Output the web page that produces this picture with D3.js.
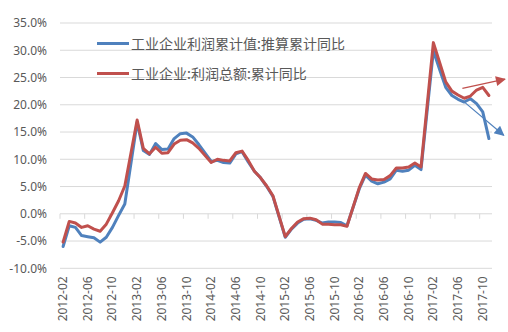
<!DOCTYPE html>
<html>
<head>
<meta charset="utf-8">
<script src="https://cdn.jsdelivr.net/npm/d3@7"></script>
<style>
  html, body { margin: 0; padding: 0; background: #fff; }
  svg { display: block; }
</style>
</head>
<body>
<svg id="chart" width="508" height="332"></svg>
<script>
// Monthly categories, 2012-02 .. 2017-11
const months = [
  "2012-02","2012-03","2012-04","2012-05","2012-06","2012-07","2012-08","2012-09","2012-10","2012-11","2012-12",
  "2013-01","2013-02","2013-03","2013-04","2013-05","2013-06","2013-07","2013-08","2013-09","2013-10","2013-11","2013-12",
  "2014-01","2014-02","2014-03","2014-04","2014-05","2014-06","2014-07","2014-08","2014-09","2014-10","2014-11","2014-12",
  "2015-01","2015-02","2015-03","2015-04","2015-05","2015-06","2015-07","2015-08","2015-09","2015-10","2015-11","2015-12",
  "2016-01","2016-02","2016-03","2016-04","2016-05","2016-06","2016-07","2016-08","2016-09","2016-10","2016-11","2016-12",
  "2017-01","2017-02","2017-03","2017-04","2017-05","2017-06","2017-07","2017-08","2017-09","2017-10","2017-11"
];

// 工业企业利润累计值:推算累计同比 (%), January not published
const estimatedYoY = [
  -6.0, -2.2, -2.5, -4.0, -4.2, -4.4, -5.2, -4.3, -2.5, -0.3, 1.8,
  null, 16.8, 11.6, 10.9, 12.9, 11.8, 11.9, 13.8, 14.7, 14.8, 14.1, 12.7,
  null, 9.6, 9.8, 9.4, 9.3, 11.0, 11.4, 9.5, 7.8, 6.6, 5.0, 3.2,
  null, -4.3, -2.8, -1.7, -1.0, -0.9, -1.2, -1.7, -1.5, -1.5, -1.6, -2.2,
  null, 4.6, 7.1, 6.0, 5.5, 5.8, 6.4, 8.0, 7.8, 8.0, 8.9, 8.1,
  null, 29.9, 26.5, 23.2, 21.7, 21.0, 20.5, 21.1, 20.2, 18.7, 13.8
];

// 工业企业:利润总额:累计同比 (%)
const reportedYoY = [
  -5.2, -1.4, -1.7, -2.5, -2.2, -2.8, -3.2, -1.9, 0.2, 2.4, 5.1,
  null, 17.2, 12.0, 11.0, 12.2, 11.1, 11.2, 12.8, 13.5, 13.6, 13.0, 12.0,
  null, 9.4, 10.0, 9.8, 9.7, 11.2, 11.5, 9.8, 7.8, 6.6, 5.1, 3.3,
  null, -4.2, -2.7, -1.5, -0.9, -0.8, -1.1, -1.9, -1.9, -2.0, -2.0, -2.3,
  null, 4.8, 7.4, 6.4, 6.2, 6.3, 7.0, 8.4, 8.4, 8.6, 9.3, 8.6,
  null, 31.4, 27.8, 24.2, 22.5, 21.8, 21.2, 21.6, 22.7, 23.2, 21.7
];

const seriesNames = ["工业企业利润累计值:推算累计同比", "工业企业:利润总额:累计同比"];
const seriesColors = ["#4f81bd", "#c0504d"];

const yTicks = [-10, -5, 0, 5, 10, 15, 20, 25, 30, 35];
const yTickLabels = ["-10.0%", "-5.0%", "0.0%", "5.0%", "10.0%", "15.0%", "20.0%", "25.0%", "30.0%", "35.0%"];

// Trend arrows: [fromIndex, fromValue, toIndex, toValue]
const trendArrows = [
  { color: "#c0504d", from: [64.7, 23.0], to: [71.6, 24.7] },
  { color: "#4f81bd", from: [64.6, 20.9], to: [71.4, 14.4] }
];

const svg = d3.select("#chart");
const plot = { left: 60, right: 492, top: 23, bottom: 268.3 };

const x = d3.scaleBand().domain(months).range([plot.left, plot.right]).padding(0);
const y = d3.scaleLinear().domain([-10, 35]).range([plot.bottom, plot.top]);
const step = x.bandwidth();
const xc = m => x(m) + step / 2;
const xi = i => x(months[0]) + step / 2 + i * step;

const textColor = "#595959";
const gridColor = "#d9d9d9";

// Horizontal gridlines
svg.append("g")
  .selectAll("line")
  .data(yTicks)
  .join("line")
  .attr("x1", plot.left).attr("x2", plot.right)
  .attr("y1", d => y(d)).attr("y2", d => y(d))
  .attr("stroke", gridColor).attr("stroke-width", 1);

// Y axis labels
const yAxis = d3.axisLeft(y).tickValues(yTicks)
  .tickFormat((d, i) => yTickLabels[i]).tickSize(0).tickPadding(0);
const yg = svg.append("g").attr("transform", `translate(${plot.left - 13},0)`).call(yAxis);
yg.select(".domain").remove();
yg.selectAll("text")
  .attr("fill", textColor)
  .style("font-family", "'Noto Sans', sans-serif")
  .style("font-size", "12px");

// Category axis line at 0% with tick marks every 4 months
const tickIdx = d3.range(0, months.length, 4);
svg.append("g")
  .selectAll("line")
  .data(tickIdx)
  .join("line")
  .attr("x1", i => x(months[i])).attr("x2", i => x(months[i]))
  .attr("y1", y(0)).attr("y2", y(0) + 5)
  .attr("stroke", gridColor).attr("stroke-width", 1);

// Category labels, rotated, placed under the plot
svg.append("g")
  .selectAll("text")
  .data(tickIdx)
  .join("text")
  .attr("transform", i => `translate(${xc(months[i]) + 4},${plot.bottom + 8}) rotate(-90)`)
  .attr("text-anchor", "end")
  .attr("fill", textColor)
  .style("font-family", "'Noto Sans', sans-serif")
  .style("font-size", "12px")
  .text(i => months[i]);

// Series lines (January gaps are bridged)
const line = d3.line()
  .x(d => xc(d.m))
  .y(d => y(d.v))
  .curve(d3.curveLinear);

[estimatedYoY, reportedYoY].forEach((vals, s) => {
  const pts = months.map((m, i) => ({ m, v: vals[i] })).filter(d => d.v !== null);
  svg.append("path")
    .datum(pts)
    .attr("d", line)
    .attr("fill", "none")
    .attr("stroke", seriesColors[s])
    .attr("stroke-width", 3)
    .attr("stroke-linejoin", "round")
    .attr("stroke-linecap", "round");
});

// Trend arrows
const defs = svg.append("defs");
trendArrows.forEach((a, k) => {
  const id = "arrow" + k;
  defs.append("marker")
    .attr("id", id)
    .attr("viewBox", "0 0 10 10")
    .attr("refX", 9).attr("refY", 5)
    .attr("markerUnits", "userSpaceOnUse")
    .attr("markerWidth", 12).attr("markerHeight", 10)
    .attr("orient", "auto")
    .append("path")
    .attr("d", "M0,0 L10,5 L0,10 Z")
    .attr("fill", a.color);
  svg.append("line")
    .attr("x1", xi(a.from[0])).attr("y1", y(a.from[1]))
    .attr("x2", xi(a.to[0])).attr("y2", y(a.to[1]))
    .attr("stroke", a.color).attr("stroke-width", 1.2)
    .attr("marker-end", `url(#${id})`);
});

// Legend
const legend = svg.append("g");
const legendY = [43.5, 73.5];
seriesNames.forEach((name, s) => {
  legend.append("line")
    .attr("x1", 97).attr("x2", 129)
    .attr("y1", legendY[s]).attr("y2", legendY[s])
    .attr("stroke", seriesColors[s]).attr("stroke-width", 3);
  legend.append("text")
    .attr("x", 131).attr("y", legendY[s])
    .attr("dy", "0.36em")
    .attr("fill", textColor)
    .style("font-family", "'Noto Sans CJK SC', sans-serif")
    .style("font-size", "14px")
    .text(name);
});
</script>
</body>
</html>
